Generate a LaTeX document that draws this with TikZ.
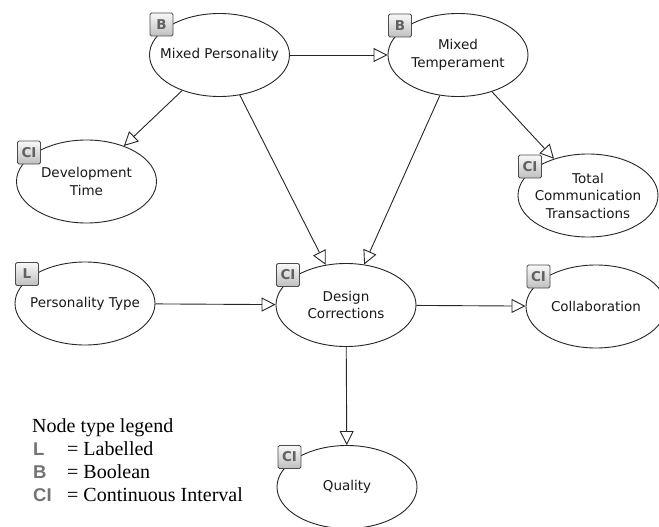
\documentclass[tikz,border=0pt]{standalone}
\usepackage{fontspec}
\setmainfont{Liberation Serif}
\newfontfamily\dvsans{DejaVu Sans}
\newfontfamily\lsans{Liberation Sans}
\usetikzlibrary{shapes.geometric,arrows.meta}

\begin{document}
\begin{tikzpicture}[x=1pt,y=-1pt,
  var/.style={ellipse, draw=black!85, line width=0.9pt, fill=white,
    inner sep=0pt, minimum width=140pt, minimum height=83pt},
  vartext/.style={font=\dvsans\fontsize{13.5}{17.5}\selectfont,
    align=center, text=black!90, inner sep=0pt},
  badge/.style={rectangle, rounded corners=1.5pt, draw=black!70,
    line width=0.8pt, top color=gray!5, bottom color=gray!50,
    minimum size=23pt, inner sep=0pt,
    font=\dvsans\bfseries\fontsize{13.5}{13.5}\selectfont, text=black!62},
  link/.style={draw=black!85, line width=0.9pt,
    -{Triangle[length=14pt,width=14pt,fill=white,line width=0.9pt]}},
  legendtxt/.style={anchor=base west, inner sep=0pt,
    font=\fontsize{20}{23}\selectfont},
  legendkey/.style={anchor=base west, inner sep=0pt,
    font=\lsans\bfseries\fontsize{18.5}{20}\selectfont, text=black!55},
]
\useasboundingbox (0,0) rectangle (659,527);

% variables
\node[var] (mp)  at (219.5,55)  {};
\node[var] (mt)  at (458,55)    {};
\node[var] (dt)  at (86.5,181.5) {};
\node[var] (tct) at (588,195.5) {};
\node[var] (pt)  at (85,303.5)  {};
\node[var] (dc)  at (346,305)   {};
\node[var] (col) at (596,306.5) {};
\node[var] (q)   at (347,487)   {};

\node[vartext] (mp-t)  at (mp)  {Mixed Personality};
\node[vartext] (mt-t)  at (mt)  {Mixed\\Temperament};
\node[vartext] (dt-t)  at (dt)  {Development\\Time};
\node[vartext] (tct-t) at (tct) {Total\\Communication\\Transactions};
\node[vartext] (pt-t)  at (pt)  {Personality Type};
\node[vartext] (dc-t)  at (dc)  {Design\\Corrections};
\node[vartext] (col-t) at (col) {Collaboration};
\node[vartext] (q-t)   at (q)   {Quality};

% dependencies
\draw[link] (mp) -- (mt);
\draw[link] (mp) -- (dt);
\draw[link] (mp) -- (dc);
\draw[link] (mt) -- (dc);
\draw[link] (mt) -- (tct);
\draw[link] (pt) -- (dc);
\draw[link] (dc) -- (col);
\draw[link] (dc) -- (q);

% type badges
\node[badge] (mp-b)  at (161.5,24.5) {B};
\node[badge] (mt-b)  at (400,25.5)   {B};
\node[badge] (dt-b)  at (29,152.5)   {CI};
\node[badge] (tct-b) at (530,166.5)  {CI};
\node[badge] (pt-b)  at (27,274)     {L};
\node[badge] (dc-b)  at (288,275)    {CI};
\node[badge] (col-b) at (538.5,276.5) {CI};
\node[badge] (q-b)   at (289.5,457)  {CI};

% legend
\node[legendtxt] (lg-title) at (32,432) {Node type legend};
\node[legendkey] (lg-l)  at (33,455) {L};
\node[legendtxt] (lg-lt) at (67,455) {= Labelled};
\node[legendkey] (lg-b)  at (33,478) {B};
\node[legendtxt] (lg-bt) at (67,478) {= Boolean};
\node[legendkey] (lg-c)  at (33,501) {CI};
\node[legendtxt] (lg-ct) at (67,501) {= Continuous Interval};
\end{tikzpicture}
\end{document}
